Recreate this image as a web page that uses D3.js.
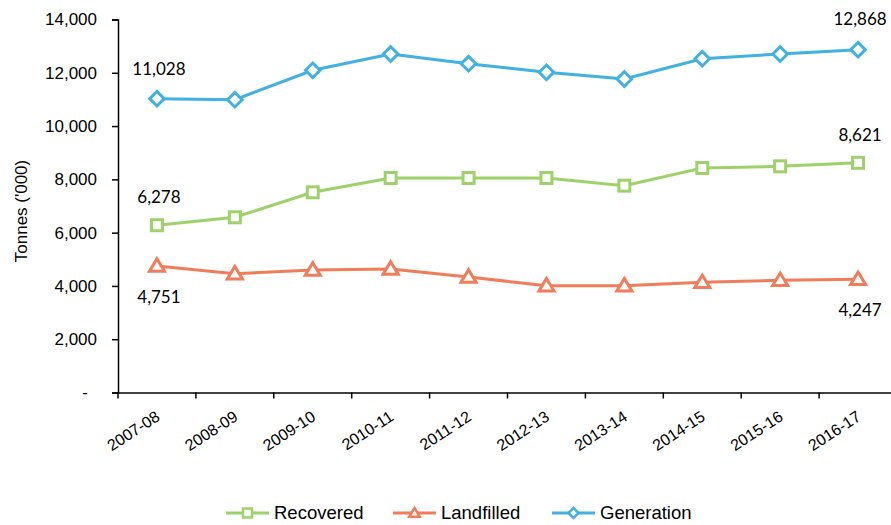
<!DOCTYPE html>
<meta charset="utf-8">
<script src="https://d3js.org/d3.v7.min.js"></script>
<style>
body { margin: 0; background: #fff; }
text { fill: #000; }
.axis text { font: 16px "Liberation Sans", Arial, sans-serif; }
.yaxis text { font: 17px "Liberation Sans", Arial, sans-serif; }
.dlabel { font: 17px Lato, "Open Sans", sans-serif; }
.legend text { font: 18.5px "Liberation Sans", Arial, sans-serif; }
</style>
<body>
<script>

var years = ["2007-08","2008-09","2009-10","2010-11","2011-12","2012-13","2013-14","2014-15","2015-16","2016-17"];
var recovered  = [6278, 6576, 7514, 8051, 8051, 8051, 7763, 8426, 8489, 8621];
var landfilled = [4751, 4460, 4598, 4635, 4335, 4009, 4009, 4136, 4211, 4247];
var generation = [11028, 10990, 12093, 12705, 12341, 12018, 11767, 12529, 12705, 12868];
var yTicks = [0, 2000, 4000, 6000, 8000, 10000, 12000, 14000];

var series = [
  {name: "Recovered", values: recovered, color: "#9dd26a", shape: "square"},
  {name: "Landfilled", values: landfilled, color: "#f07c5a", shape: "triangle"},
  {name: "Generation", values: generation, color: "#41b1e1", shape: "diamond"}
];

var width = 891, height = 525;
var plotLeft = 118, plotTop = 19.5, plotRight = 897, plotBottom = 392.5;

var svg = d3.select("body").append("svg")
    .attr("width", width)
    .attr("height", height);

var x = d3.scaleBand().domain(years).range([plotLeft, plotRight]);
var y = d3.scaleLinear().domain([0, 14000]).range([plotBottom, plotTop]);

// y axis
var yAxis = svg.append("g")
    .attr("class", "yaxis")
    .attr("transform", "translate(" + plotLeft + ",0)")
    .call(d3.axisLeft(y).tickValues(yTicks).tickSize(6).tickPadding(15)
      .tickFormat(function(d) { return d == 0 ? "-" : d3.format(",")(d); }));
yAxis.select(".domain").attr("stroke", "#000").attr("stroke-width", 1.5);
yAxis.selectAll(".tick line").attr("stroke", "#000").attr("stroke-width", 1.5);
yAxis.selectAll(".tick text").filter(function(d) { return d == 0; }).attr("dx", -9);

// x axis
var xAxis = svg.append("g")
    .attr("class", "axis")
    .attr("transform", "translate(0," + plotBottom + ")")
    .call(d3.axisBottom(x).tickSize(0).tickSizeOuter(0));
xAxis.select(".domain").attr("stroke", "#000").attr("stroke-width", 1.5);
xAxis.selectAll(".tick text")
    .attr("text-anchor", "end")
    .attr("y", 0)
    .attr("dy", 0)
    .attr("transform", "translate(4,27) rotate(-33)");
// tick marks at band edges
xAxis.selectAll(".edge")
    .data(years)
    .enter().append("line")
    .attr("x1", function(d) { return x(d); })
    .attr("x2", function(d) { return x(d); })
    .attr("y1", 0).attr("y2", 6)
    .attr("stroke", "#000").attr("stroke-width", 1.5);

// y title
svg.append("text")
    .attr("transform", "translate(27,211) rotate(-90)")
    .attr("text-anchor", "middle")
    .style("font", "17px 'Liberation Sans', Arial, sans-serif")
    .text("Tonnes ('000)");

function cx(i) { return x(years[i]) + x.bandwidth() / 2; }

function marker(g, shape, s) {
  if (shape == "square") {
    g.append("rect").attr("x", -s / 2).attr("y", -s / 2).attr("width", s).attr("height", s);
  } else if (shape == "triangle") {
    var h = s * 0.9;
    g.append("path").attr("d", "M0," + (-h * 0.62) + "L" + (s * 0.58) + "," + (h * 0.45) + "L" + (-s * 0.58) + "," + (h * 0.45) + "Z");
  } else {
    var r = s * 0.56;
    g.append("path").attr("d", "M0," + (-r) + "L" + r + ",0L0," + r + "L" + (-r) + ",0Z");
  }
}

var sizes = {square: 11, triangle: 13, diamond: 13};

var line = d3.line()
    .x(function(d, i) { return cx(i); })
    .y(function(d) { return y(d); });

series.forEach(function(s) {
  svg.append("path")
      .datum(s.values)
      .attr("fill", "none")
      .attr("stroke", s.color)
      .attr("stroke-width", 3)
      .attr("d", line);

  s.values.forEach(function(v, i) {
    var g = svg.append("g")
        .attr("transform", "translate(" + cx(i) + "," + y(v) + ")")
        .attr("fill", "#fff")
        .attr("stroke", s.color)
        .attr("stroke-width", 3);
    marker(g, s.shape, sizes[s.shape]);
  });
});

// data labels at first and last points
var fmt = d3.format(",");
var labels = [
  {s: 2, i: 0, dy: -30},
  {s: 2, i: 9, dy: -31},
  {s: 0, i: 0, dy: -28},
  {s: 0, i: 9, dy: -28},
  {s: 1, i: 0, dy: 31},
  {s: 1, i: 9, dy: 31}
];
labels.forEach(function(l) {
  var v = series[l.s].values[l.i];
  svg.append("text")
      .attr("class", "dlabel")
      .attr("x", cx(l.i) + 2)
      .attr("y", y(v) + l.dy)
      .attr("dy", "0.35em")
      .attr("text-anchor", "middle")
      .text(fmt(v));
});

// legend
var legendX = [226, 393, 552];
var legend = svg.append("g").attr("class", "legend");
series.forEach(function(s, k) {
  var g = legend.append("g").attr("transform", "translate(" + legendX[k] + ",513)");
  g.append("line").attr("x1", 0).attr("x2", 43).attr("y1", 0).attr("y2", 0)
      .attr("stroke", s.color).attr("stroke-width", 3);
  var m = g.append("g").attr("transform", "translate(21.5,0)")
      .attr("fill", "#fff").attr("stroke", s.color).attr("stroke-width", 2.5);
  marker(m, s.shape, 9);
  g.append("text").attr("x", 48).attr("dy", "0.35em").text(s.name);
});

</script>
</body>
